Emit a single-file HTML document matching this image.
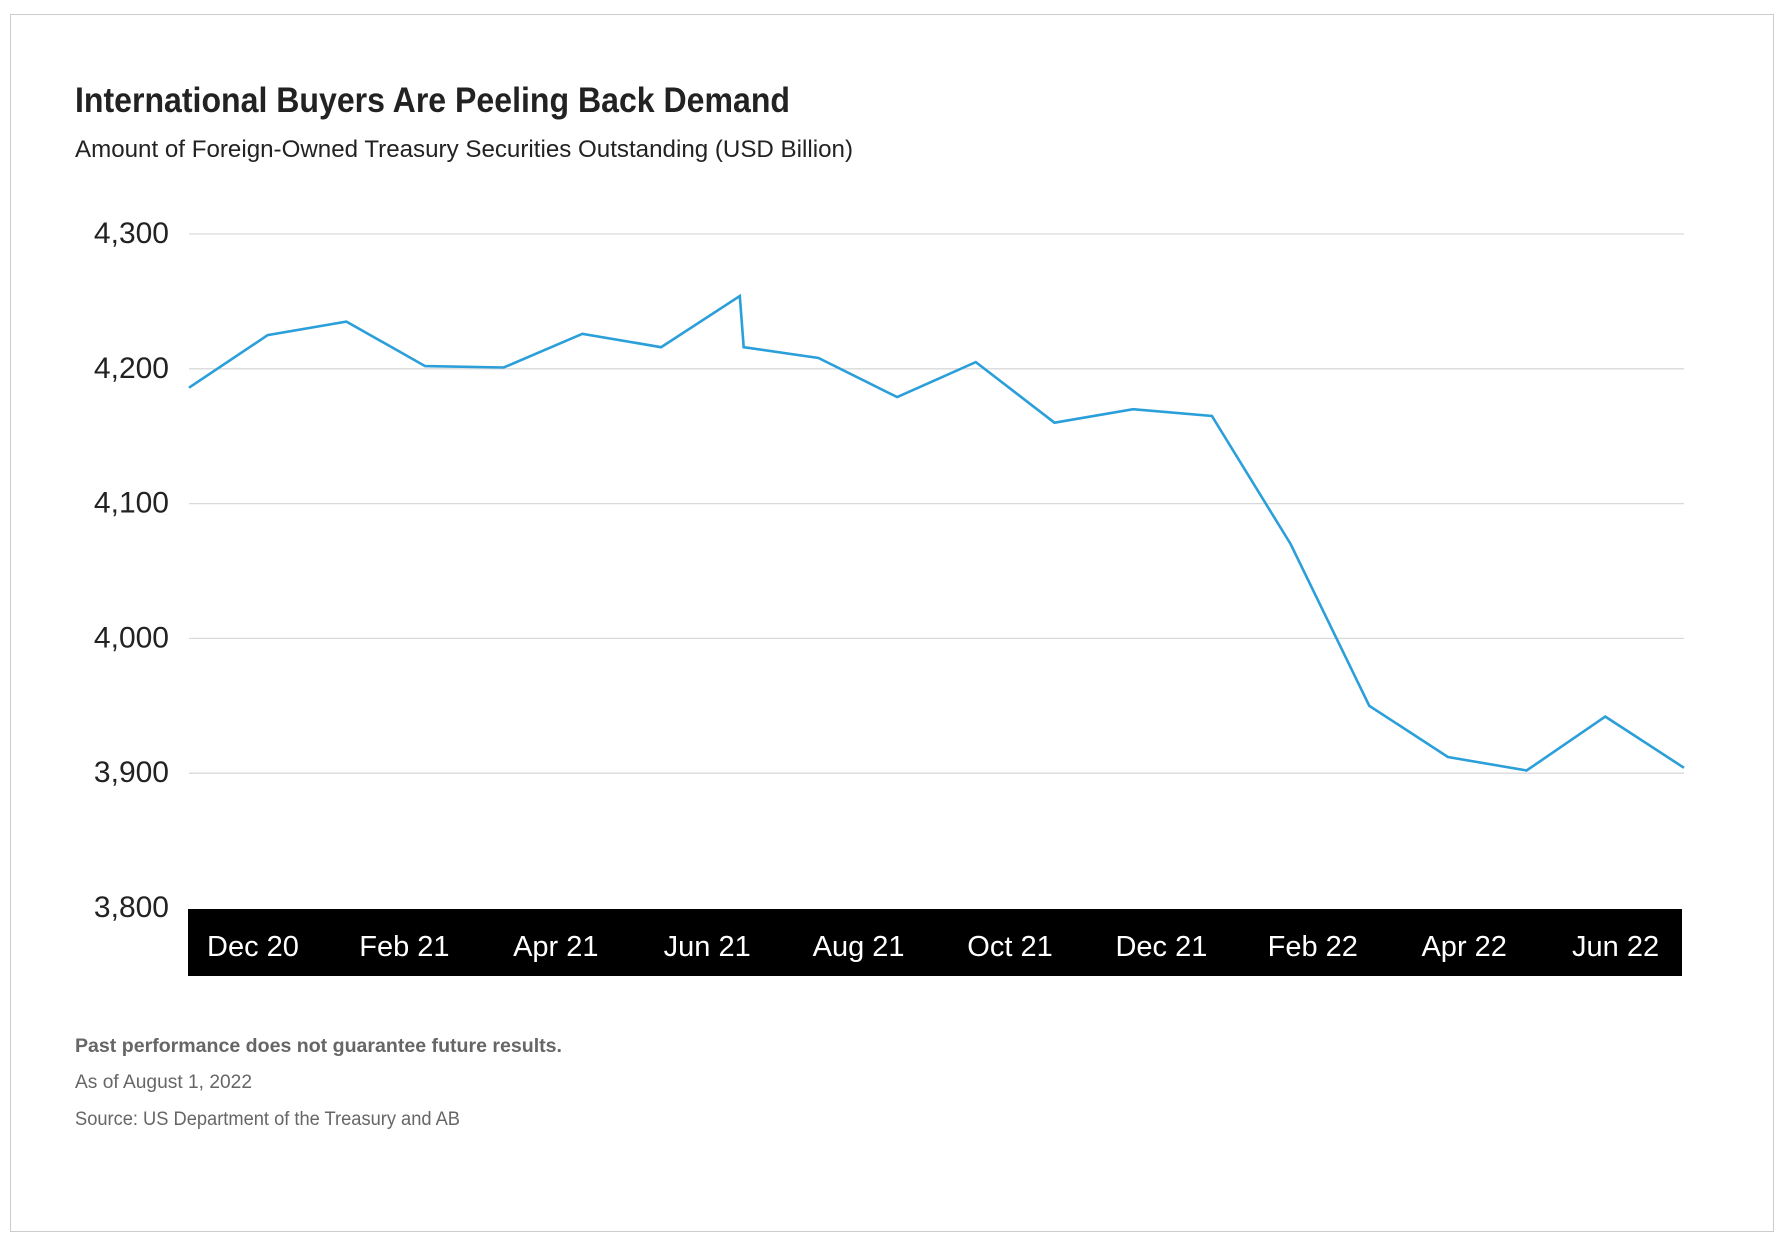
<!DOCTYPE html>
<html><head><meta charset="utf-8"><style>
html,body{margin:0;padding:0;background:#fff;}
svg{display:block;font-family:"Liberation Sans Narrow","Liberation Sans",sans-serif;}
</style></head><body>
<svg width="1788" height="1246" viewBox="0 0 1788 1246">
<rect x="10.5" y="14.5" width="1763" height="1217" fill="#fff" stroke="#ccc" stroke-width="1"/>
<text x="75" y="112" font-size="35" font-weight="bold" fill="#222" textLength="715" lengthAdjust="spacingAndGlyphs">International Buyers Are Peeling Back Demand</text>
<text x="75" y="157" font-size="24" fill="#222" textLength="778" lengthAdjust="spacingAndGlyphs">Amount of Foreign-Owned Treasury Securities Outstanding (USD Billion)</text>
<g id="grid"></g>
<g id="ylabels"></g>
<rect x="188" y="909" width="1494" height="67" fill="#000"/>
<g id="xlabels"></g>
<path id="series" fill="none" stroke="#2b9fd9" stroke-width="2.6" stroke-linejoin="miter"/>
<text x="75" y="1052" font-size="19" font-weight="bold" fill="#666" textLength="487" lengthAdjust="spacingAndGlyphs">Past performance does not guarantee future results.</text>
<text x="75" y="1088" font-size="19" fill="#666" textLength="177" lengthAdjust="spacingAndGlyphs">As of August 1, 2022</text>
<text x="75" y="1125" font-size="19" fill="#666" textLength="385" lengthAdjust="spacingAndGlyphs">Source: US Department of the Treasury and AB</text>
</svg>
<script>
const yTicks = [3800, 3900, 4000, 4100, 4200, 4300];
const yTickLabels = ["3,800", "3,900", "4,000", "4,100", "4,200", "4,300"];
const xTickLabels = ["Dec 20", "Feb 21", "Apr 21", "Jun 21", "Aug 21", "Oct 21", "Dec 21", "Feb 22", "Apr 22", "Jun 22"];
const monthIndex = [0, 1, 2, 3, 4, 5, 6, 7, 7.05, 8, 9, 10, 11, 12, 13, 14, 15, 16, 17, 18, 19];
const values = [4186, 4225, 4235, 4202, 4201, 4226, 4216, 4254, 4216, 4208, 4179, 4205, 4160, 4170, 4165, 4070, 3950, 3912, 3902, 3942, 3904];

const NS = "http://www.w3.org/2000/svg";
const plotL = 189, plotR = 1684, yTop = 234, yBot = 908;
const y = v => yBot - (v - 3800) / 500 * (yBot - yTop);
const x = i => plotL + i / 19 * (plotR - plotL);

const grid = document.getElementById('grid');
const yl = document.getElementById('ylabels');
yTicks.forEach((t, k) => {
  if (t > 3800) {
    const ln = document.createElementNS(NS, 'line');
    ln.setAttribute('x1', plotL); ln.setAttribute('x2', plotR);
    ln.setAttribute('y1', y(t)); ln.setAttribute('y2', y(t));
    ln.setAttribute('stroke', '#d9d9d9'); ln.setAttribute('stroke-width', '1.3');
    
    
    grid.appendChild(ln);
  }
  const tx = document.createElementNS(NS, 'text');
  tx.setAttribute('x', 169); tx.setAttribute('y', y(t) + 9);
  tx.setAttribute('text-anchor', 'end'); tx.setAttribute('font-size', '30');
  tx.setAttribute('fill', '#222');
  tx.setAttribute('font-family', '"Liberation Sans", sans-serif');
  tx.textContent = yTickLabels[k];
  
  
  yl.appendChild(tx);
});

const xl = document.getElementById('xlabels');
xTickLabels.forEach((lab, k) => {
  const tx = document.createElementNS(NS, 'text');
  tx.setAttribute('x', 253 + k * 151.4); tx.setAttribute('y', 956);
  tx.setAttribute('text-anchor', 'middle'); tx.setAttribute('font-size', '29');
  tx.setAttribute('fill', '#fff');
  tx.setAttribute('font-family', '"Liberation Sans", sans-serif');
  tx.textContent = lab;
  
  
  xl.appendChild(tx);
});

document.getElementById('series').setAttribute('d',
  values.map((v, i) => (i ? 'L' : 'M') + x(monthIndex[i]).toFixed(1) + ',' + y(v).toFixed(1)).join(' '));
</script>
</body></html>
